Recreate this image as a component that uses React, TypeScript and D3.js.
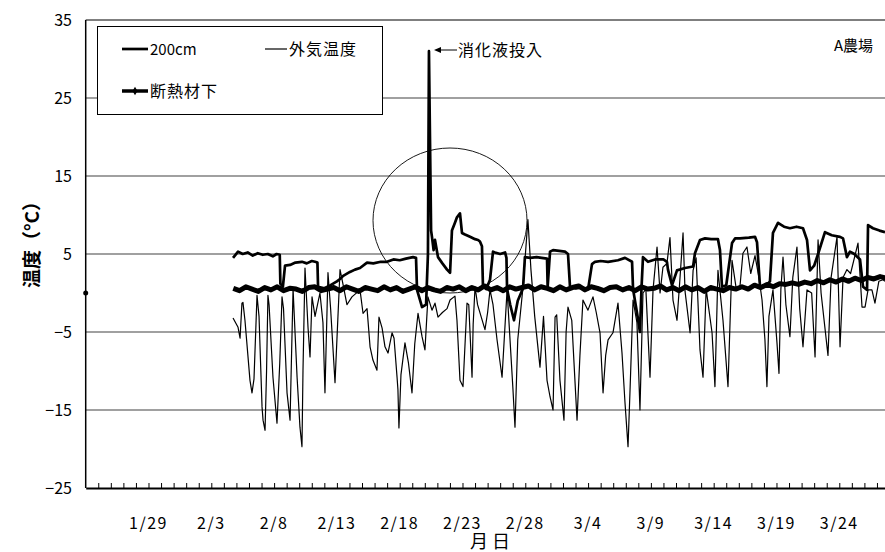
import * as d3 from "d3";
import React from "react";

// day 0 = 2008/1/24, values in °C
const START = new Date(2008, 0, 24);
const SPAN_DAYS = 63.64;

const yTicks = [35, 25, 15, 5, -5, -15, -25];
const xLabelDays = [5, 10, 15, 20, 25, 30, 35, 40, 45, 50, 55, 60];

// 200cm  [day, temp]
const depth200: [number, number][] = [
	[11.73, 4.5], [12.13, 5.3], [12.5, 5.0], [12.9, 5.2], [13.3, 4.8], [13.7, 5.1], [14.1, 4.9],
	[14.5, 5.0], [14.9, 4.7], [15.2, 5.0], [15.45, 4.9], [15.5, 1.2], [15.7, 0.8], [15.87, 3.5],
	[16.27, 3.6], [16.7, 3.9], [17.22, 4.0], [17.6, 3.8], [18.0, 4.1], [18.26, 4.0], [18.45, 3.9],
	[18.5, 0.8], [19.0, 0.6], [19.5, 1.0], [20.0, 1.5], [20.25, 1.8], [20.5, 2.2], [21.04, 2.7],
	[21.44, 3.0], [21.84, 3.2], [22.4, 3.9], [22.9, 3.8], [23.5, 4.0], [23.99, 4.0], [24.5, 4.3],
	[25.0, 4.2], [25.5, 4.4], [26.06, 4.6], [26.3, 4.5], [26.38, 0.4], [26.62, -0.9], [26.78, -1.8],
	[27.1, -1.5], [27.25, 5], [27.33, 31], [27.41, 20], [27.5, 8], [27.57, 7.2], [27.7, 5.5],
	[27.81, 6.8], [28.05, 4.6], [28.4, 3.8], [28.77, 3.0], [29.01, 2.6], [29.16, 8], [29.4, 9.0],
	[29.56, 9.7], [29.8, 10.2], [29.96, 7.7], [30.2, 7.5], [30.6, 7.2], [31.0, 6.9], [31.24, 6.8],
	[31.39, 6.6], [31.55, 6.0], [31.63, 0.8], [31.9, 0.5], [32.19, 1.7], [32.43, 5.3], [32.59, 5.2],
	[33.0, 5.0], [33.39, 5.2], [33.5, 4.5], [33.55, 0.5], [33.8, -1.5], [34.1, -3.5], [34.4, -1.0],
	[34.82, 0.6], [34.97, 4.6], [35.4, 4.5], [35.9, 4.6], [36.3, 4.5], [36.73, 4.4], [36.78, 0.8],
	[36.97, 5.3], [37.21, 5.5], [37.7, 5.4], [38.16, 5.3], [38.4, 5.0], [38.56, 0.8], [39.0, 0.6],
	[39.5, 0.7], [40.0, 0.5], [40.31, 3.7], [40.55, 4.0], [41.0, 4.1], [41.59, 4.0], [42.38, 4.2],
	[42.94, 4.5], [43.5, 4.0], [43.58, 0.5], [43.89, -2.5], [44.13, -5], [44.25, 0.5], [44.37, 4.6],
	[44.77, 4.0], [45.33, 4.3], [46.0, 4.3], [46.28, 4.0], [46.36, 3.0], [46.68, 1.0], [47.08, 2.9],
	[47.72, 3.2], [48.36, 3.4], [48.51, 5.1], [48.91, 6.8], [49.31, 7.0], [49.8, 6.9], [50.34, 6.9],
	[50.5, 5.5], [50.66, 0.8], [51.0, 1.0], [51.46, 6.4], [51.7, 7.0], [52.09, 7.0], [52.8, 7.1],
	[53.29, 7.2], [53.45, 6.5], [53.53, 4.6], [53.69, 0.8], [54.2, 1.0], [54.48, 1.5], [54.72, 7.7],
	[55.12, 9.0], [55.6, 8.5], [56.07, 8.3], [56.6, 8.5], [57.11, 8.3], [57.43, 6.8], [57.67, 2.9],
	[58.0, 3.5], [58.31, 5], [58.86, 7.8], [59.4, 7.4], [60.06, 7.2], [60.3, 7.0], [60.61, 4.6],
	[60.85, 5.3], [61.2, 5.0], [61.65, 4.3], [61.89, 0.8], [62.21, 0.4], [62.29, 8.7], [62.68, 8.3],
	[63.2, 8.0], [63.64, 7.8],
];

// 外気温度  [day, temp]
const outside: [number, number][] = [
	[11.73, -3.2], [12.13, -4.4], [12.29, -5.8], [12.44, -1.3], [12.52, -1.2], [12.68, -3.5],
	[13.08, -11.2], [13.24, -12.8], [13.4, -11], [13.64, -0.3], [13.8, -3], [14.04, -14.6],
	[14.12, -16.3], [14.28, -17.6], [14.4, -10], [14.51, -0.3], [14.6, -1.5], [14.91, -10.8],
	[15.23, -16.7], [15.45, -9], [15.63, -0.5], [15.75, -2], [16.03, -12.8], [16.27, -16.3],
	[16.51, 0.5], [16.83, -10.8], [17.06, -17.2], [17.22, -19.7], [17.3, -10], [17.46, 3.2],
	[17.7, -4.4], [17.86, -8.2], [18.02, -0.5], [18.26, -3], [18.65, 0], [18.89, -3.8],
	[19.05, -12.8], [19.29, 2.6], [19.5, -2], [19.85, -11.5], [20.25, 3.0], [20.5, 1],
	[20.8, -1.5], [21.2, -0.5], [21.84, 0.4], [22.08, -2.6], [22.4, -2], [22.64, -6.9],
	[22.87, -8.6], [23.19, -9.9], [23.35, -3.1], [23.6, -4.5], [23.83, -6.9], [24.07, -7.7],
	[24.39, -5.1], [24.55, -5.8], [24.79, -10.8], [24.86, -12.4], [24.94, -17.3], [25.1, -10.5],
	[25.42, -6.4], [25.7, -9], [25.98, -12.8], [26.2, -6.5], [26.46, -2.6], [26.78, -5.6],
	[27.01, -7.3], [27.25, -0.5], [27.57, -2.2], [27.81, -1.3], [28.05, -3.1], [28.4, -2.5],
	[28.77, -2.0], [29.01, -0.9], [29.4, -0.4], [29.56, -3.5], [29.8, -11.2], [30.04, -12.0],
	[30.36, -1.3], [30.5, -1.5], [30.76, -10.8], [30.85, -4], [31.0, 0.8], [31.2, -1.5],
	[31.79, -4.7], [32.0, -2.5], [32.19, 0.4], [32.43, -1.5], [32.75, -6.0], [33.15, -10.8],
	[33.55, 0.4], [34.02, -12.4], [34.18, -17.2], [34.4, -6], [34.82, 0.8], [35.21, 9.4],
	[35.45, 3], [35.75, -3], [36.17, -9.5], [36.45, -3], [36.73, -11.2], [36.97, -13.3],
	[37.21, -15], [37.37, -3.1], [37.5, -2.8], [37.76, -11.2], [38.08, -16.3], [38.25, -5],
	[38.4, -1.8], [38.7, -3.5], [39.12, -16.3], [39.35, -8], [39.59, -0.9], [39.99, -2.2],
	[40.39, -0.5], [40.65, -2.5], [40.95, -5.1], [41.19, -12.8], [41.4, -8], [41.59, -6],
	[41.98, -5.1], [42.38, -1.3], [42.7, -7.7], [42.94, -14.1], [43.18, -19.7], [43.35, -12],
	[43.58, -0.9], [43.89, -3.8], [44.13, -15], [44.37, 0], [44.6, 0.5], [44.93, -10.8],
	[45.17, 0.4], [45.49, 5.9], [45.73, 0], [45.96, 3.3], [46.28, 3.8], [46.52, 7.1],
	[46.76, -0.9], [47.08, -3.5], [47.3, 1.5], [47.56, 7.7], [47.72, 0.2], [48.12, -5.1],
	[48.36, 2.9], [48.6, 4.5], [48.91, -7.3], [49.15, -10.8], [49.4, 0.5], [49.87, -5.1],
	[50.1, -12], [50.34, 2.9], [50.74, -3.5], [51.14, -12], [51.46, 4.2], [51.8, 0.5],
	[52.09, 0.8], [52.33, 5.1], [52.65, 5.9], [52.95, 2.5], [53.29, 4.8], [53.6, 2],
	[53.85, -0.9], [54.08, -6], [54.24, -12], [54.4, -3], [54.72, 0.4], [55.04, -6.4],
	[55.2, -10.3], [55.35, 0.5], [55.52, 4.6], [55.75, -1.5], [56.07, -5.6], [56.3, 2],
	[56.63, 5.9], [56.85, -2], [57.11, -6.9], [57.43, 0.4], [57.8, 0], [58.07, -8.2],
	[58.31, 6.8], [58.55, 0], [59.1, -8.0], [59.35, 2], [59.82, 7.2], [60.06, -6.9],
	[60.3, 2], [60.61, 3], [60.9, 2.5], [61.49, 6.4], [61.81, -1.8], [62.05, -1.8],
	[62.29, 0.4], [62.6, 0.4], [62.84, -1.3], [63.15, 1.5], [63.48, 1.7], [63.64, 1.5],
];

// 断熱材下, logged every 12 h from day 11.75
const insulationStart = 11.75;
const insulation = [
	0.6, 0.3, 0.8, 0.5, 0.2, 0.7, 0.4, 0.8, 0.3, 0.6,
	0.5, 0.2, 0.7, 0.8, 0.3, 0.5, 0.7, 0.3, 0.8, 0.5,
	0.2, 0.7, 0.5, 0.3, 0.8, 0.4, 0.7, 0.2, 0.5, 0.8,
	0.3, 0.7, 0.4, 0.2, 0.7, 0.5, 0.8, 0.3, 0.7, 0.4,
	0.9, 0.4, 0.7, 0.3, 0.8, 0.5, 0.7, 0.9, 0.4, 0.8,
	0.6, 0.3, 0.8, 0.4, 0.7, 0.9, 0.4, 0.8, 0.6, 0.3,
	0.7, 0.8, 0.4, 0.7, 0.3, 0.8, 0.5, 0.6, 0.9, 0.4,
	0.7, 0.3, 0.8, 0.4, 0.7, 0.2, 0.7, 0.5, 0.3, 0.7,
	0.5,
	0.8, 0.5, 1.0, 0.7, 1.1, 0.8, 1.2, 1.1, 1.3, 1.1, 1.4, 1.2,
	1.6, 1.3, 1.7, 1.4, 1.8, 1.5, 1.9, 1.6, 2.0, 1.8, 2.1, 1.9,
];
// lone logged point at the start of the axis
const insulationFirst: [number, number] = [0, 0];

const FONT = "'Noto Sans CJK JP', 'Noto Sans', sans-serif";

const day = (d: number) => new Date(START.getTime() + d * 864e5);

const useD3 = (renderChartFn: (s: any) => void, dependencies: any[]) => {
	const ref = React.useRef<SVGSVGElement>(null);
	React.useEffect(() => {
		renderChartFn(d3.select(ref.current));
	}, dependencies);
	return ref;
};

export default function App() {
	const ref = useD3((svg) => {
		svg.selectAll("*").remove();

		const left = 85.7;
		const right = 885;
		const top = 20;
		const bottom = 488;

		const x = d3.scaleTime().domain([START, day(SPAN_DAYS)]).range([left, right]);
		const y = d3.scaleLinear().domain([-25, 35]).range([bottom, top]);
		const fmt = d3.timeFormat("%-m/%-d");

		// grid
		svg
			.append("g")
			.selectAll("line")
			.data(yTicks.filter((v) => v !== 35 && v !== -25))
			.join("line")
			.attr("x1", left)
			.attr("x2", right)
			.attr("y1", (d) => y(d))
			.attr("y2", (d) => y(d))
			.attr("stroke", "#808080")
			.attr("stroke-width", 1.5);

		// frame top
		svg
			.append("line")
			.attr("x1", left)
			.attr("x2", right)
			.attr("y1", y(35))
			.attr("y2", y(35))
			.attr("stroke", "#000")
			.attr("stroke-width", 1.2);

		// series
		const line = d3
			.line<[number, number]>()
			.x((d) => x(day(d[0])))
			.y((d) => y(d[1]));

		svg
			.append("path")
			.attr("d", line(outside))
			.attr("fill", "none")
			.attr("stroke", "#000")
			.attr("stroke-width", 1.2)
			.attr("stroke-linejoin", "round");

		svg
			.append("path")
			.attr("d", line(depth200))
			.attr("fill", "none")
			.attr("stroke", "#000")
			.attr("stroke-width", 2.7)
			.attr("stroke-linejoin", "round");

		const insPts = insulation.map((v, i) => [insulationStart + i * 0.5, v] as [number, number]);
		svg
			.append("path")
			.attr("d", line(insPts))
			.attr("fill", "none")
			.attr("stroke", "#000")
			.attr("stroke-width", 5)
			.attr("stroke-linejoin", "round");

		svg
			.append("circle")
			.attr("cx", x(day(insulationFirst[0])))
			.attr("cy", y(insulationFirst[1]))
			.attr("r", 2.5)
			.attr("fill", "#000");

		// axes
		svg
			.append("line")
			.attr("x1", left)
			.attr("x2", left)
			.attr("y1", top)
			.attr("y2", bottom)
			.attr("stroke", "#000")
			.attr("stroke-width", 1.5);

		const xAxis = svg.append("g").attr("transform", `translate(0,${bottom})`);
		xAxis
			.call(
				d3
					.axisBottom(x)
					.tickValues(d3.range(1, Math.floor(SPAN_DAYS) + 1).map(day))
					.tickSizeInner(-5)
					.tickSizeOuter(0)
					.tickFormat(() => "")
			)
			.call((g: any) => g.select(".domain").attr("stroke-width", 2))
			.call((g: any) => g.selectAll(".tick line").attr("stroke-width", 1));

		svg
			.append("g")
			.selectAll("text")
			.data(xLabelDays)
			.join("text")
			.attr("x", (d) => x(day(d)))
			.attr("y", 529)
			.attr("text-anchor", "middle")
			.attr("font-size", 16)
			.attr("letter-spacing", 1.5)
			.text((d) => fmt(day(d)));

		svg
			.append("g")
			.selectAll("text")
			.data(yTicks)
			.join("text")
			.attr("x", 72)
			.attr("y", (d) => y(d))
			.attr("dy", "0.35em")
			.attr("text-anchor", "end")
			.attr("font-size", 16)
			.text((d) => (d < 0 ? "\u2212" + Math.abs(d) : String(d)));

		svg
			.append("text")
			.attr("transform", "translate(39,240) rotate(-90)")
			.attr("text-anchor", "middle")
			.attr("font-size", 19)
			.attr("font-weight", "bold")
			.text("温度（°C）");

		svg
			.append("text")
			.attr("x", 492)
			.attr("y", 548)
			.attr("text-anchor", "middle")
			.attr("font-size", 18)
			.attr("letter-spacing", 4)
			.text("月日");

		// legend
		const lg = svg.append("g");
		lg.append("rect")
			.attr("x", 97.5)
			.attr("y", 26.5)
			.attr("width", 285)
			.attr("height", 88)
			.attr("fill", "#fff")
			.attr("stroke", "#000")
			.attr("stroke-width", 1);
		lg.append("line").attr("x1", 122).attr("x2", 148).attr("y1", 49).attr("y2", 49)
			.attr("stroke", "#000").attr("stroke-width", 2.7);
		lg.append("text").attr("x", 150).attr("y", 55).attr("font-size", 15).text("200cm");
		lg.append("line").attr("x1", 265).attr("x2", 287).attr("y1", 49).attr("y2", 49)
			.attr("stroke", "#000").attr("stroke-width", 1.2);
		lg.append("text").attr("x", 289).attr("y", 55).attr("font-size", 16).attr("letter-spacing", 1).text("外気温度");
		lg.append("line").attr("x1", 122).attr("x2", 148).attr("y1", 91).attr("y2", 91)
			.attr("stroke", "#000").attr("stroke-width", 3.5);
		lg.append("path")
			.attr("transform", "translate(135,91)")
			.attr("d", d3.symbol(d3.symbolDiamond, 22)())
			.attr("fill", "#000");
		lg.append("text").attr("x", 150).attr("y", 97).attr("font-size", 16).attr("letter-spacing", 1).text("断熱材下");

		// annotation
		svg
			.append("ellipse")
			.attr("cx", 450)
			.attr("cy", 220.5)
			.attr("rx", 77)
			.attr("ry", 72.5)
			.attr("fill", "none")
			.attr("stroke", "#000")
			.attr("stroke-width", 0.9);

		const ay = 50;
		svg.append("line").attr("x1", 438).attr("x2", 457).attr("y1", ay).attr("y2", ay)
			.attr("stroke", "#000").attr("stroke-width", 1);
		svg.append("path")
			.attr("d", `M434,${ay} L441,${ay - 3} L441,${ay + 3} Z`)
			.attr("fill", "#000");
		svg.append("text").attr("x", 458).attr("y", 56).attr("font-size", 16).attr("letter-spacing", 1).text("消化液投入");

		svg.append("text").attr("x", 834).attr("y", 51).attr("font-size", 15).text("A農場");
	}, []);

	return (
		<svg
			ref={ref}
			width={885}
			height={552}
			style={{ position: "absolute", left: 0, top: 0, fontFamily: FONT, background: "#fff" }}
		/>
	);
}
